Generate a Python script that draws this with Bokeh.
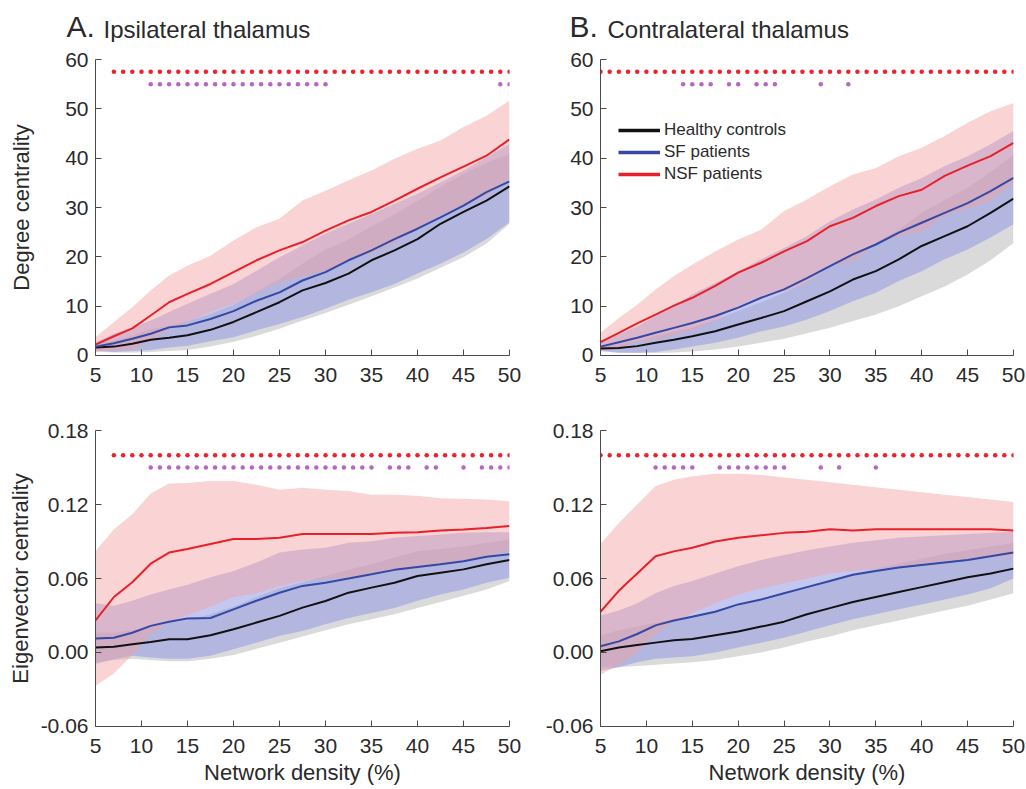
from bokeh.plotting import figure
from bokeh.layouts import column, row
from bokeh.models import Range1d, FixedTicker, NumeralTickFormatter, Legend, LegendItem
from bokeh.core.properties import value
from bokeh.embed import file_html
from bokeh.resources import INLINE

# ---------------- data ----------------
density = [5, 7, 9, 11, 13, 15, 17.5, 20, 22.5, 25, 27.5, 30, 32.5, 35, 37.5, 40, 42.5, 45, 47.5, 50]

# A. Ipsilateral thalamus - degree centrality
deg_ipsi_hc = [1.6, 1.8, 2.4, 3.2, 3.6, 4.1, 5.2, 6.8, 8.8, 10.8, 13.2, 14.7, 16.6, 19.3, 21.3, 23.6, 26.7, 29.1, 31.4, 34.3]
deg_ipsi_hc_lo = [0.8, 0.6, 0.6, 0.7, 0.9, 1.1, 1.8, 2.8, 4.0, 5.4, 7.1, 8.6, 10.3, 12.0, 13.8, 15.6, 17.8, 19.9, 22.7, 26.7]
deg_ipsi_hc_hi = [2.4, 3.0, 4.0, 5.3, 6.1, 6.9, 8.4, 10.3, 12.9, 15.5, 18.6, 21.5, 23.5, 26.2, 28.6, 31.3, 34.2, 36.8, 39.0, 40.9]
deg_ipsi_sf = [1.8, 2.5, 3.4, 4.4, 5.7, 6.1, 7.4, 9.0, 11.1, 12.8, 15.2, 16.9, 19.3, 21.3, 23.6, 25.7, 28.0, 30.4, 33.1, 35.3]
deg_ipsi_sf_lo = [1.0, 0.7, 0.9, 1.1, 1.6, 2.0, 2.9, 3.7, 5.1, 6.4, 7.8, 9.5, 11.3, 12.8, 14.5, 16.6, 18.6, 20.9, 23.6, 27.0]
deg_ipsi_sf_hi = [2.7, 4.4, 5.7, 7.1, 8.8, 10.5, 12.5, 14.5, 17.2, 19.9, 22.3, 24.7, 26.7, 28.7, 30.7, 32.8, 35.1, 37.5, 40.2, 42.9]
deg_ipsi_nsf = [2.2, 3.9, 5.5, 8.1, 10.8, 12.5, 14.5, 16.9, 19.3, 21.3, 23.0, 25.3, 27.4, 29.1, 31.4, 33.8, 36.1, 38.3, 40.5, 43.8]
deg_ipsi_nsf_lo = [0.7, 1.0, 1.2, 3.0, 5.4, 6.8, 8.8, 10.5, 12.6, 14.9, 16.0, 17.2, 19.3, 20.7, 22.9, 25.7, 28.6, 30.3, 32.4, 35.9]
deg_ipsi_nsf_hi = [3.7, 6.8, 9.8, 13.2, 16.2, 18.2, 20.2, 23.3, 26.0, 27.7, 31.4, 33.4, 35.5, 37.5, 39.9, 41.9, 43.6, 46.3, 48.6, 51.7]

# B. Contralateral thalamus - degree centrality
deg_contra_hc = [1.4, 1.5, 1.9, 2.6, 3.2, 3.9, 4.9, 6.3, 7.6, 9.0, 11.0, 13.0, 15.4, 17.1, 19.5, 22.2, 24.2, 26.2, 28.9, 31.8]
deg_contra_hc_lo = [0.9, 0.7, 0.6, 0.5, 0.6, 0.8, 1.2, 1.8, 2.6, 3.4, 4.5, 5.6, 7.0, 8.3, 10.0, 12.0, 14.0, 16.4, 19.3, 22.8]
deg_contra_hc_hi = [2.0, 2.3, 3.0, 4.0, 4.8, 5.7, 7.2, 9.0, 10.8, 12.7, 15.0, 18.0, 20.5, 22.8, 25.5, 29.0, 31.5, 34.0, 37.2, 40.7]
deg_contra_sf = [1.8, 2.7, 3.6, 4.6, 5.6, 6.6, 8.0, 9.7, 11.7, 13.4, 15.7, 18.1, 20.5, 22.5, 24.9, 26.9, 28.9, 30.9, 33.3, 36.0]
deg_contra_sf_lo = [0.9, 0.5, 0.5, 0.7, 1.2, 1.8, 2.6, 3.6, 4.9, 5.9, 7.3, 9.0, 11.0, 12.7, 15.1, 17.1, 19.5, 21.5, 23.9, 26.6]
deg_contra_sf_hi = [2.6, 4.3, 5.9, 8.0, 10.0, 12.4, 14.7, 17.1, 19.5, 21.8, 24.2, 27.2, 29.6, 31.6, 34.0, 36.0, 38.4, 40.4, 42.8, 45.5]
deg_contra_nsf = [2.7, 4.6, 6.5, 8.3, 10.1, 11.7, 14.1, 16.8, 18.8, 21.1, 23.2, 26.2, 27.9, 30.3, 32.3, 33.6, 36.4, 38.5, 40.4, 43.1]
deg_contra_nsf_lo = [0.8, 1.6, 2.7, 3.2, 4.1, 5.0, 7.1, 10.1, 12.1, 12.9, 14.8, 18.1, 19.1, 22.6, 24.2, 25.1, 28.3, 29.8, 31.3, 35.0]
deg_contra_nsf_hi = [4.6, 7.6, 10.3, 13.4, 16.1, 18.4, 21.1, 23.5, 25.5, 29.3, 31.6, 34.3, 36.7, 38.0, 40.4, 42.1, 44.5, 47.2, 49.5, 51.2]

# A. Ipsilateral thalamus - eigenvector centrality
eig_ipsi_hc = [0.004, 0.0046, 0.0067, 0.0086, 0.0108, 0.0108, 0.014, 0.0189, 0.0243, 0.0297, 0.0364, 0.0418, 0.0485, 0.0526, 0.0566, 0.062, 0.0647, 0.0674, 0.0715, 0.075]
eig_ipsi_hc_lo = [-0.008, -0.006, -0.005, -0.006, -0.007, -0.007, -0.005, -0.002, 0.003, 0.008, 0.013, 0.018, 0.023, 0.027, 0.031, 0.036, 0.041, 0.046, 0.051, 0.058]
eig_ipsi_hc_hi = [0.016, 0.016, 0.018, 0.021, 0.024, 0.026, 0.031, 0.037, 0.045, 0.052, 0.057, 0.062, 0.067, 0.0715, 0.077, 0.082, 0.084, 0.086, 0.089, 0.0917]
eig_ipsi_sf = [0.0113, 0.012, 0.016, 0.0216, 0.025, 0.0275, 0.028, 0.035, 0.042, 0.0485, 0.054, 0.0566, 0.060, 0.0634, 0.067, 0.0693, 0.0715, 0.074, 0.0777, 0.0796]
eig_ipsi_sf_lo = [-0.0094, -0.0054, -0.0027, -0.004, -0.005, -0.005, -0.0027, 0.0027, 0.008, 0.0135, 0.0175, 0.023, 0.028, 0.032, 0.036, 0.042, 0.047, 0.051, 0.0566, 0.0607]
eig_ipsi_sf_hi = [0.040, 0.038, 0.042, 0.047, 0.051, 0.055, 0.061, 0.066, 0.073, 0.081, 0.0836, 0.085, 0.089, 0.0903, 0.093, 0.0944, 0.0957, 0.097, 0.0976, 0.0976]
eig_ipsi_nsf = [0.026, 0.045, 0.057, 0.072, 0.081, 0.084, 0.088, 0.092, 0.092, 0.093, 0.096, 0.096, 0.096, 0.096, 0.097, 0.0975, 0.099, 0.0998, 0.101, 0.1025]
eig_ipsi_nsf_lo = [-0.027, -0.017, -0.002, 0.015, 0.025, 0.030, 0.037, 0.045, 0.048, 0.054, 0.058, 0.060, 0.061, 0.064, 0.066, 0.068, 0.072, 0.075, 0.078, 0.082]
eig_ipsi_nsf_hi = [0.082, 0.100, 0.112, 0.129, 0.137, 0.1375, 0.139, 0.139, 0.136, 0.132, 0.1335, 0.132, 0.131, 0.128, 0.128, 0.127, 0.125, 0.1246, 0.124, 0.1227]

# B. Contralateral thalamus - eigenvector centrality
eig_contra_hc = [0.001, 0.004, 0.006, 0.008, 0.010, 0.011, 0.014, 0.017, 0.021, 0.025, 0.031, 0.036, 0.041, 0.045, 0.049, 0.053, 0.057, 0.061, 0.064, 0.068]
eig_contra_hc_lo = [-0.012, -0.012, -0.011, -0.010, -0.009, -0.008, -0.006, -0.003, 0.000, 0.004, 0.009, 0.013, 0.018, 0.022, 0.026, 0.030, 0.034, 0.038, 0.043, 0.048]
eig_contra_hc_hi = [0.014, 0.018, 0.021, 0.024, 0.027, 0.030, 0.034, 0.038, 0.043, 0.048, 0.054, 0.059, 0.064, 0.068, 0.072, 0.076, 0.080, 0.083, 0.086, 0.089]
eig_contra_sf = [0.005, 0.009, 0.015, 0.022, 0.026, 0.029, 0.033, 0.039, 0.043, 0.048, 0.053, 0.058, 0.063, 0.066, 0.069, 0.071, 0.073, 0.075, 0.078, 0.081]
eig_contra_sf_lo = [-0.015, -0.012, -0.008, -0.005, -0.004, -0.003, 0.000, 0.004, 0.008, 0.012, 0.017, 0.022, 0.027, 0.031, 0.035, 0.039, 0.043, 0.047, 0.052, 0.060]
eig_contra_sf_hi = [0.030, 0.034, 0.040, 0.048, 0.054, 0.058, 0.064, 0.070, 0.075, 0.079, 0.083, 0.086, 0.089, 0.091, 0.093, 0.094, 0.095, 0.096, 0.097, 0.098]
eig_contra_nsf = [0.033, 0.050, 0.064, 0.078, 0.082, 0.085, 0.090, 0.093, 0.095, 0.097, 0.098, 0.100, 0.099, 0.100, 0.100, 0.100, 0.100, 0.100, 0.100, 0.099]
eig_contra_nsf_lo = [-0.018, -0.010, 0.000, 0.015, 0.025, 0.032, 0.040, 0.047, 0.052, 0.056, 0.060, 0.064, 0.066, 0.068, 0.070, 0.072, 0.074, 0.076, 0.077, 0.078]
eig_contra_nsf_hi = [0.088, 0.105, 0.120, 0.135, 0.140, 0.143, 0.145, 0.145, 0.144, 0.142, 0.140, 0.138, 0.136, 0.134, 0.132, 0.130, 0.128, 0.126, 0.124, 0.122]

# significance markers (network densities, %)
sig_nsf_deg_ipsi = list(range(7, 51))
sig_sf_deg_ipsi = list(range(11, 31)) + [49, 50]
sig_nsf_deg_contra = list(range(5, 51))
sig_sf_deg_contra = [14, 15, 16, 17, 19, 20, 22, 23, 24, 29, 32]
sig_nsf_eig_ipsi = list(range(7, 51))
sig_sf_eig_ipsi = list(range(11, 36)) + [37, 38, 39, 41, 42, 45, 47, 48, 49, 50]
sig_nsf_eig_contra = list(range(5, 51))
sig_sf_eig_contra = [11, 12, 13, 14, 15, 18, 19, 20, 21, 22, 23, 24, 25, 29, 31, 35]

deg_marker_rows = [57.5, 55.0]
eig_marker_rows = [0.16, 0.15]

x_ticks = [5, 10, 15, 20, 25, 30, 35, 40, 45, 50]
deg_ticks = [0, 10, 20, 30, 40, 50, 60]
eig_ticks = [-0.06, 0.0, 0.06, 0.12, 0.18]

group_names = ["Healthy controls", "SF patients", "NSF patients"]
panel_letters = ["A.", "B."]
panel_titles = ["Ipsilateral thalamus", "Contralateral thalamus"]

# ---------------- style ----------------
FONT = "Liberation Sans"
TXT = "#2a2a2a"
AX = "#4a4a4a"
LINE_COLORS = ["#111111", "#3448a4", "#e8202a"]
BAND_COLORS = ["#cdcdcd", "#949ae6", "#f49f9f"]
BAND_ALPHAS = [0.75, 0.55, 0.45]
DOT_RED = "#f2202a"
DOT_PURPLE = "#b865c6"


def make_panel(width, height, borders, yrange, yticks, yfmt, series, sig, rows,
               ylabel=None, ylabel_standoff=8, xlabel=None):
    bl, br, bt, bb = borders
    p = figure(width=width, height=height,
               x_range=Range1d(4.9999, 50.0001), y_range=Range1d(*yrange),
               output_backend="svg", toolbar_location=None,
               min_border_left=bl, min_border_right=br, min_border_top=bt, min_border_bottom=bb)
    p.outline_line_color = None
    p.grid.visible = False
    for ax in (p.xaxis[0], p.yaxis[0]):
        ax.major_tick_in = 6
        ax.major_tick_out = 0
        ax.minor_tick_line_color = None
        ax.axis_line_color = AX
        ax.major_tick_line_color = AX
        ax.major_label_text_font = FONT
        ax.major_label_text_font_size = "21px"
        ax.major_label_text_color = TXT
        ax.axis_label_text_font = FONT
        ax.axis_label_text_font_size = "22px"
        ax.axis_label_text_font_style = "normal"
        ax.axis_label_text_color = TXT
    p.xaxis.major_label_standoff = 12
    p.yaxis.major_label_standoff = 7
    p.xaxis.ticker = FixedTicker(ticks=x_ticks)
    p.yaxis.ticker = FixedTicker(ticks=yticks)
    if yfmt:
        p.yaxis.formatter = NumeralTickFormatter(format=yfmt)
    if ylabel:
        p.yaxis.axis_label = ylabel
        p.yaxis.axis_label_standoff = ylabel_standoff
    if xlabel:
        p.xaxis.axis_label = xlabel
        p.xaxis.axis_label_standoff = 4

    for (mean, lo, hi), bc, ba in zip(series, BAND_COLORS, BAND_ALPHAS):
        p.varea(x=density, y1=lo, y2=hi, fill_color=bc, fill_alpha=ba)
    for (mean, lo, hi), lc in zip(series, LINE_COLORS):
        p.line(x=density, y=mean, line_color=lc, line_width=2)

    (nsf_sig, sf_sig) = sig
    p.scatter(x=nsf_sig, y=[rows[0]] * len(nsf_sig), size=4.5, color=DOT_RED, line_color=None)
    p.scatter(x=sf_sig, y=[rows[1]] * len(sf_sig), size=4.5, color=DOT_PURPLE, line_color=None)
    return p


# geometry (page px, origin top-left): frames A x 95..509, B x 600..1013,
# top row y 59..355, bottom row y 431..727
WA, WB = 530, 495
HT, H1, H2 = 42, 352, 394

# title strip: no title panel, no borders, data units = pixels up from its bottom
pt = figure(width=WA + WB, height=HT, x_range=Range1d(0, WA + WB), y_range=Range1d(0, HT),
            x_axis_type=None, y_axis_type=None, output_backend="svg", toolbar_location=None,
            min_border_left=0, min_border_right=0, min_border_top=0, min_border_bottom=0,
            title=None)
pt.outline_line_color = None
pt.grid.visible = False
pt.text(x=[66, 569], y=[HT - 26, HT - 26], text=panel_letters, text_font=value(FONT),
        text_font_size=value("30px"), text_color=TXT, text_baseline="middle")
pt.text(x=[103, 607], y=[HT - 29, HT - 29], text=panel_titles, text_font=value(FONT),
        text_font_size=value("24px"), text_color=TXT, text_baseline="middle")

pA1 = make_panel(WA, H1, (95, 21, 17, 39), (-0.0001, 60.0001), deg_ticks, None,
                 [(deg_ipsi_hc, deg_ipsi_hc_lo, deg_ipsi_hc_hi),
                  (deg_ipsi_sf, deg_ipsi_sf_lo, deg_ipsi_sf_hi),
                  (deg_ipsi_nsf, deg_ipsi_nsf_lo, deg_ipsi_nsf_hi)],
                 (sig_nsf_deg_ipsi, sig_sf_deg_ipsi), deg_marker_rows,
                 ylabel="Degree centrality", ylabel_standoff=28)

pB1 = make_panel(WB, H1, (70, 12, 17, 39), (-0.0001, 60.0001), deg_ticks, None,
                 [(deg_contra_hc, deg_contra_hc_lo, deg_contra_hc_hi),
                  (deg_contra_sf, deg_contra_sf_lo, deg_contra_sf_hi),
                  (deg_contra_nsf, deg_contra_nsf_lo, deg_contra_nsf_hi)],
                 (sig_nsf_deg_contra, sig_sf_deg_contra), deg_marker_rows)

leg_items = []
for name, lc in zip(group_names, LINE_COLORS):
    r = pB1.line(x=[float("nan")], y=[float("nan")], line_color=lc, line_width=3.5)
    leg_items.append(LegendItem(label=name, renderers=[r]))
legend = Legend(items=leg_items, location=(18, 170), background_fill_alpha=0,
                border_line_alpha=0, label_text_font=FONT, label_text_font_size="17px",
                label_text_color=TXT, glyph_width=42, glyph_height=22, label_height=22,
                spacing=0, padding=0, margin=0, label_standoff=4)
pB1.add_layout(legend)

pA2 = make_panel(WA, H2, (95, 21, 36, 62), (-0.06001, 0.18001), eig_ticks, "0.00",
                 [(eig_ipsi_hc, eig_ipsi_hc_lo, eig_ipsi_hc_hi),
                  (eig_ipsi_sf, eig_ipsi_sf_lo, eig_ipsi_sf_hi),
                  (eig_ipsi_nsf, eig_ipsi_nsf_lo, eig_ipsi_nsf_hi)],
                 (sig_nsf_eig_ipsi, sig_sf_eig_ipsi), eig_marker_rows,
                 ylabel="Eigenvector centrality", ylabel_standoff=5,
                 xlabel="Network density (%)")

pB2 = make_panel(WB, H2, (70, 12, 36, 62), (-0.06001, 0.18001), eig_ticks, "0.00",
                 [(eig_contra_hc, eig_contra_hc_lo, eig_contra_hc_hi),
                  (eig_contra_sf, eig_contra_sf_lo, eig_contra_sf_hi),
                  (eig_contra_nsf, eig_contra_nsf_lo, eig_contra_nsf_hi)],
                 (sig_nsf_eig_contra, sig_sf_eig_contra), eig_marker_rows,
                 xlabel="Network density (%)")

layout = column(pt, row(pA1, pB1), row(pA2, pB2))
open("out.html", "w").write(file_html(layout, INLINE))
